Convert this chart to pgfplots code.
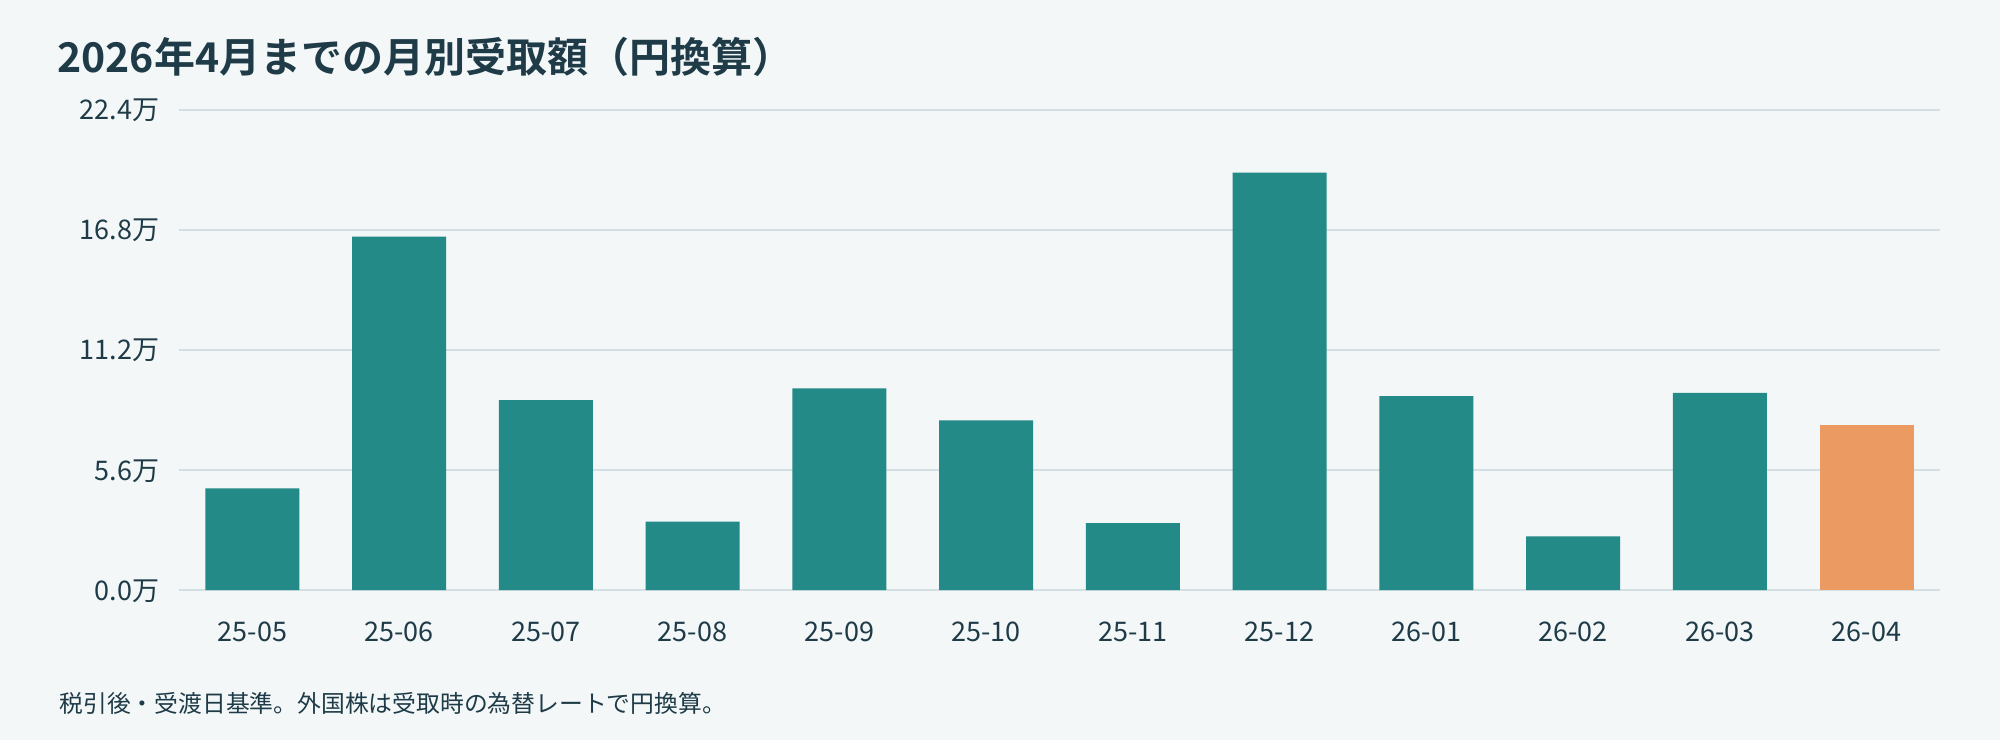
\documentclass[border=0pt]{standalone}
\usepackage{pgfplots}
\pgfplotsset{compat=1.18}
\usepackage{fontspec}
\setmainfont{Noto Sans CJK JP}
\newfontfamily\titlefont{Noto Sans CJK JP Bold}

\definecolor{bgc}{HTML}{F3F7F8}
\definecolor{barteal}{HTML}{238A88}
\definecolor{barorange}{HTML}{EB9A62}
\definecolor{gridc}{HTML}{D3DFE2}
\definecolor{txt}{HTML}{1E3B47}

\begin{document}
\begin{tikzpicture}
  % page = 2000x740 px, 1 px = 0.5 bp
  \path[use as bounding box, fill=bgc] (0,0) rectangle (1000bp,370bp);
  \node[anchor=west, inner sep=0pt, text=txt, font=\titlefont\fontsize{20.5bp}{24bp}\selectfont]
    at (28.5bp,341.5bp) {2026年4月までの月別受取額（円換算）};
  \begin{axis}[
      at={(89.5bp,75bp)}, anchor=south west,
      scale only axis,
      width=880.5bp, height=240bp,
      ybar, bar width=47bp, bar shift=0pt,
      xmin=-0.5, xmax=11.5,
      ymin=0, ymax=22.4,
      xtick={0,...,11},
      xticklabels={25-05,25-06,25-07,25-08,25-09,25-10,25-11,25-12,26-01,26-02,26-03,26-04},
      ytick={0,5.6,11.2,16.8,22.4},
      yticklabels={0.0万,5.6万,11.2万,16.8万,22.4万},
      axis line style={draw=none},
      major tick length=0pt,
      ymajorgrids=true,
      major grid style={draw=gridc, line width=0.9bp},
      xticklabel style={anchor=base, inner sep=0pt, yshift=-25.5bp,
        text=txt, font=\fontsize{13.5bp}{16bp}\selectfont},
      yticklabel style={anchor=base east, inner sep=0pt, xshift=-9.75bp, yshift=-5bp,
        text=txt, font=\fontsize{13.5bp}{16bp}\selectfont},
      clip=false,
    ]
    \addplot[fill=barteal, draw=none] coordinates {
      (0,4.74) (1,16.49) (2,8.86) (3,3.19) (4,9.41) (5,7.91)
      (6,3.12) (7,19.48) (8,9.05) (9,2.50) (10,9.20)
    };
    \addplot[fill=barorange, draw=none] coordinates {(11,7.70)};
  \end{axis}
  \node[anchor=west, inner sep=0pt, text=txt, font=\fontsize{11.9bp}{14bp}\selectfont]
    at (29.5bp,18.5bp) {税引後・受渡日基準。外国株は受取時の為替レートで円換算。};
\end{tikzpicture}
\end{document}
